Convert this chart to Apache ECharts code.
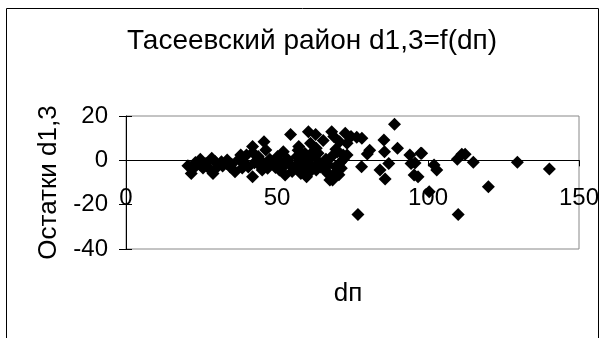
<!DOCTYPE html>
<html><head><meta charset="utf-8">
<script src="https://cdn.jsdelivr.net/npm/echarts@6/dist/echarts.min.js"></script>
<style>html,body{margin:0;padding:0;background:#fff}#c{width:606px;height:338px}</style>
</head><body><div id="c"></div>
<script>
const titleText = "Тасеевский район d1,3=f(dп)";
const xName = "dп";
const yName = "Остатки d1,3";
const xTicks = [0, 50, 100, 150];
const yTicks = [-40, -20, 0, 20];
const dp = [
 88.9,89.9,85.4,85.6,87,84.1,85.8,80.7,79.9,78,76.8,78.1,76.4,74.5,72.6,73.2,73.2,94,94.4,95.4,97.6,100.4,102,102.9,109.7,111.2,110,115,120,129.6,140.2,
 95.7,96.7,97.9,112.3,
 20.5,21.6,22.4,24.6,24.6,26.5,28.4,28.8,30.3,31.6,33.3,33.5,36.1,37.4,38,39.3,39.9,41.9,41.9,42.5,43.8,45.1,45.7,46.3,46.9,47.6,48.9,50.2,52.1,52.7,52.1,54,54.5,55.9,56.6,57.2,57.9,59.2,60.4,59.8,60.4,61.1,62.8,62.4,63,63.6,65.3,66.2,66.8,68.1,67.5,68.1,68.8,69.4,70,70.7,71.3,71.9,68.4,56.6,50.8,45.1,
 23,27,32,35,40.5,44,49.5,51,53,55,58.5,61.5,64.5,67,69,71,72,58,62,65,48,44,38.5,34.5,29.5,25.5,60,64,70.5,
 42,47,53.5,57,59,63,66,69.5,57.5,61,
];
const resid = [
 16.3,5.4,9.2,3.9,-1.4,-4.4,-8.4,4.6,2.9,-2.9,-24.4,10,10.4,10.7,12.2,7.7,2.4,2.4,-1.4,-6.6,3.2,-14.2,-2.1,-4.4,0.5,2.8,-24.4,-0.9,-11.9,-0.9,-3.9,
 -1.2,-7.4,3.2,2.8,
 -2.4,-5.9,-3.6,0.5,-2.1,-1.4,0.9,-5.9,-2.9,-0.6,-1.4,0.2,-5.1,0.5,2.4,-1.4,2.4,6.2,-7.4,-1.1,1.7,-1.4,8.4,4.7,-3.6,0.5,-1.4,1.7,3.9,-6.6,-2.9,-1.4,11.7,-3.6,1.7,6.2,-5.9,3.2,12.9,-7.4,-1.4,7.7,11.7,1.7,-4.4,3.2,8.9,0.5,-5.9,12.9,-8.9,1.7,10.7,-2.9,3.9,8.4,-3.6,2.4,-8.9,-2.1,-4.4,-4.4,
 -1,-3,-2.5,-1.8,-3,-2,-3.2,-1,0,-5,-1.5,-2.5,-3,-2,-6,-1,0.5,2.5,4,-2,-0.8,0.8,-3.5,-3,-0.5,-3.5,1,-1,-6.5,
 3.5,-2.5,0.5,4.5,-4,5.5,-4.5,5,-0.5,-5
];
const pts = dp.map((x, i) => [x, resid[i]]);

const chart = echarts.init(document.getElementById('c'));
const FF = 'Liberation Sans, Arial';
const lblFont = {fontFamily: FF, fontSize: 24, color: '#000'};
chart.setOption({
  animation: false,
  grid: {left: 126, right: 27, top: 116, bottom: 89, show: true, borderColor: '#888', borderWidth: 1},
  xAxis: {
    type: 'value', min: xTicks[0], max: xTicks[xTicks.length - 1], interval: 50,
    axisLine: {onZero: true, lineStyle: {color: '#000', width: 1}},
    axisTick: {show: true, length: 6, lineStyle: {color: '#000'}},
    axisLabel: Object.assign({margin: -63}, lblFont),
    splitLine: {show: false}
  },
  yAxis: [{
    type: 'value', min: yTicks[0], max: yTicks[yTicks.length - 1], interval: 20,
    name: yName, nameLocation: 'middle', nameGap: 64, nameRotate: 90,
    nameTextStyle: {fontFamily: FF, fontSize: 26, color: '#000'},
    axisLine: {lineStyle: {color: '#000', width: 1}},
    axisTick: {show: true, length: 7, lineStyle: {color: '#000'}},
    axisLabel: Object.assign({margin: 18}, lblFont),
    splitLine: {show: false}
  }, {
    type: 'value', position: 'left', min: yTicks[0], max: yTicks[yTicks.length - 1], interval: 20,
    axisLine: {show: false},
    axisTick: {show: true, inside: true, length: 6, lineStyle: {color: '#000'}},
    axisLabel: {show: false},
    splitLine: {show: false}
  }],
  graphic: [
    {type: 'rect', shape: {x: 6.5, y: 8.5, width: 592, height: 340}, style: {fill: 'none', stroke: '#000', lineWidth: 1}, silent: true},
    {type: 'text', x: 312, y: 27, style: {text: titleText, font: '28px "Liberation Sans", Arial', fill: '#000', textAlign: 'center'}},
    {type: 'text', x: 348, y: 281, style: {text: xName, font: '26px "Liberation Sans", Arial', fill: '#000', textAlign: 'center'}}
  ],
  series: [{
    type: 'scatter', data: pts, symbol: 'diamond', symbolSize: 13,
    itemStyle: {color: '#000', borderWidth: 0, opacity: 1}
  }]
});
</script></body></html>
